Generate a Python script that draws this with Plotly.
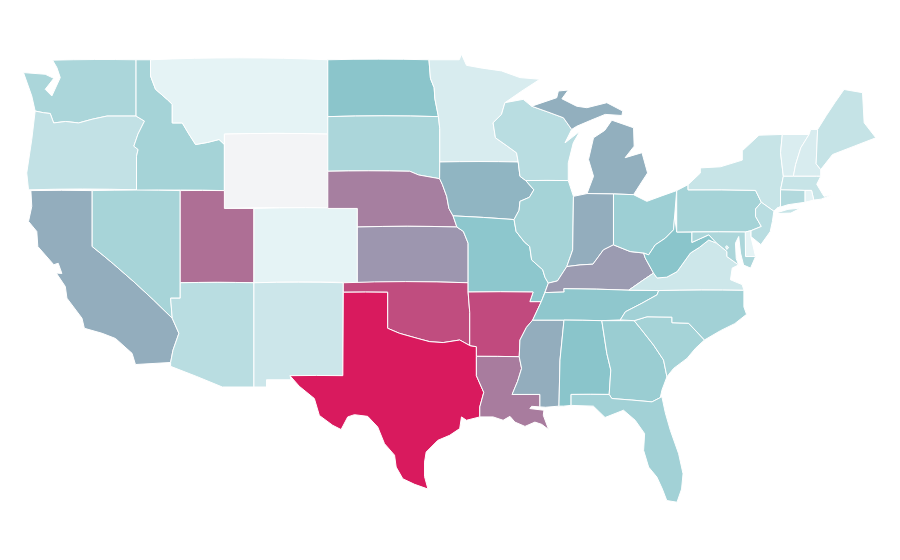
import json
from urllib.parse import quote
import plotly.graph_objects as go

# Values estimated from the reference colours.
states = ["WA","OR","CA","ID","NV","MT","WY","UT","AZ","CO","NM","ND","SD","NE","KS","OK","TX","MN","IA","MO","AR","LA","WI","IL","MS","MI","IN","KY","TN","AL","OH","GA","FL","SC","NC","VA","WV","PA","NY","VT","NH","ME","MA","RI","CT","NJ","DE","MD","DC"]
values = [15.1,10.3,30,16.4,15.9,3,0,58,12.2,3,8.2,21.8,15.1,50,40,75,100,5.7,27.3,21.3,76,51.5,12.2,16.4,30,29.5,30,38,21,22,18,18.7,17,16.4,17,8,22,16.4,9.2,5.3,5.7,9.6,9.2,3,13.7,12.2,3,15,3]
colorscale = [[0,"#f3f4f6"],[0.03,"#e5f3f5"],[0.22,"#8ac5cb"],[0.30,"#93adbd"],[0.50,"#a67fa0"],[1,"#d91a5e"]]

# Base-map geometry only: approximate state outlines in lon/lat (the library's
# own topojson cannot be downloaded without a network). Shared borders are named.
WA_OR = [(-123.86,46.24),(-123.3,46.15),(-122.84,46.11),(-122.61,45.6),(-121.8,45.68),(-120.92,45.6),(-120,45.8),(-119,45.97),(-117.03,45.97)]
OR_ID = [(-117.03,45.97),(-116.46,45.7),(-116.9,45.0),(-117.18,44.35),(-116.89,44.17),(-117,43.81),(-117,42)]
MT_ID = [(-116.05,49),(-116.05,48.13),(-115.71,47.41),(-114.9,46.85),(-114.58,46.6),(-114.58,45.6),(-113.9,45.6),(-113.45,45.0),(-113,44.44),(-112.2,44.55),(-111.41,44.71),(-111.05,44.44)]
COLO = [(-114.58,35.09),(-114.13,34.28),(-114.53,33.37),(-114.69,32.71)]
RED_OK = [(-100,34.55),(-99.2,34.28),(-97.95,34),(-97.15,33.83),(-96.24,33.78),(-95.12,33.92),(-94.44,33.62)]
RED_ND = [(-97.2,49),(-97.1,48),(-96.85,47.5),(-96.8,46.9),(-96.56,45.94)]
NE_IA = [(-95.57,40.6),(-95.85,41),(-96,41.65),(-96.3,42.3),(-96.48,42.6)]
IA_E = [(-91.16,43.5),(-91.04,42.73),(-90.65,42.5),(-90.1,42),(-90.4,41.6),(-91.04,41.38),(-91.1,40.9),(-91.44,40.4)]
MO_E = [(-91.44,40.4),(-91.3,39.76),(-90.75,39.2),(-90.38,38.95),(-90.25,38.23),(-89.5,37.7),(-89.35,37.3),(-89.12,36.98)]
MN_WI = [(-92.06,46.69),(-92.29,46.06),(-92.86,45.61),(-92.7,44.8),(-91.27,43.99),(-91.16,43.5)]
AR_MS = [(-90.18,34.99),(-90.6,34.6),(-91.04,33.92),(-91.09,33.02)]
LA_MS = [(-91.09,33.02),(-90.93,32.39),(-91.2,31.7),(-91.57,30.99),(-89.69,30.99),(-89.69,30.32)]
TX_LA = [(-93.99,33.04),(-93.99,32),(-93.49,31.1),(-93.76,30.32),(-93.76,29.78)]
KY_N = [(-89.12,36.98),(-88.5,37.1),(-87.87,37.87),(-86.97,37.96),(-86.1,38),(-85.39,38.77),(-84.71,39.04),(-83.58,38.68),(-82.67,38.6)]
OH_WV = [(-82.67,38.6),(-82.33,38.5),(-81.88,39.04),(-81.2,39.4),(-80.64,39.85),(-80.57,40.57)]
VA_WV = [(-77.72,39.13),(-78.26,39.3),(-78.9,38.9),(-79.5,38.6),(-80.4,37.6),(-81.1,37.3),(-81.76,37.26)]
MD_VA = [(-76.24,37.96),(-77.03,38.41),(-77.03,38.68),(-77.72,39.13)]
PA_NJ = [(-74.7,41.33),(-75.09,40.97),(-75.09,40.57),(-74.7,40.03),(-75.41,39.8)]
GA_SC = [(-83.31,34.96),(-82.8,34.46),(-82,33.65),(-81.32,32.84),(-81.09,31.94)]
NC_SC = [(-83.31,34.96),(-82.44,35.17),(-80.75,35.15),(-80.75,34.85),(-79.62,34.82),(-78.55,33.92)]
TN_NC = [(-84.25,35),(-83.9,35.44),(-82.78,35.9),(-81.76,36.35),(-81.65,36.58)]
VT_NH = [(-71.47,44.98),(-72.03,44.26),(-72.38,43.36),(-72.53,42.73)]
IL_W = [(-88.5,37.1),(-89.12,36.98)]

def r(line):
    return line[::-1]

shapes = {
"WA":[[(-124.65,48.31),(-124.09,47.05)]+WA_OR+[(-117.03,49),(-122.68,48.98),(-122.39,48.58),(-122.16,48.04),(-122.73,47.05),(-123.18,47.41),(-122.6,48),(-123.18,48.22)]],
"OR":[WA_OR+OR_ID[1:]+[(-124.31,42),(-124.43,42.91),(-124.09,44.71)]],
"CA":[[(-124.15,41.96),(-120,41.96),(-120,38.95)]+COLO+[(-117.07,32.6),(-117.3,33.2),(-118.42,34),(-119.33,34.28),(-120.53,34.55),(-120.69,35.09),(-121.71,36.17),(-121.82,36.8),(-122.43,37.52),(-122.05,37.5),(-122.3,38.05),(-122.6,37.97),(-123.68,38.95),(-123.75,39.76),(-124.31,40.3),(-124.09,41.11)]],
"NV":[[(-120,41.96),(-114.04,41.96),(-114.04,36.17),(-114.69,36.17),(-114.58,35.09),(-120,38.95)]],
"ID":[[(-117.03,49)]+MT_ID+[(-111.05,41.96),(-117,41.96)]+r(OR_ID)[1:]],
"MT":[MT_ID+[(-111.05,45),(-104.05,45),(-104.05,49)]],
"WY":[[(-111.05,45),(-104.05,45),(-104.05,41),(-111.05,41)]],
"UT":[[(-114.04,41.96),(-111.05,41.96),(-111.05,41),(-109.05,41),(-109.05,37),(-114.04,37)]],
"CO":[[(-109.05,41),(-102.05,41),(-102.05,37),(-109.05,37)]],
"AZ":[[(-114.04,37),(-109.05,37),(-109.05,31.39),(-111.19,31.39),(-114.69,32.5)]+r(COLO)+[(-114.69,36.17),(-114.04,36.17)]],
"NM":[[(-109.05,37),(-103,37),(-103.03,32),(-106.61,32),(-106.53,31.78),(-108.2,31.78),(-108.2,31.39),(-109.05,31.39)]],
"ND":[[(-104.05,49)]+RED_ND+[(-104.05,45.94)]],
"SD":[[(-104.05,45.94),(-96.56,45.94),(-96.47,45.3),(-96.47,43.5),(-96.48,42.6),(-97.9,42.8),(-98.5,43),(-104.05,43)]],
"NE":[[(-104.05,43),(-98.5,43),(-97.9,42.8)]+r(NE_IA)+[(-95.31,40),(-102.05,40),(-102.05,41),(-104.05,41)]],
"KS":[[(-102.05,40),(-95.31,40),(-94.87,39.76),(-94.55,39.13),(-94.55,37),(-102.05,37)]],
"OK":[[(-103,37),(-94.55,37),(-94.55,36.5),(-94.44,35.4)]+r(RED_OK)+[(-100,36.49),(-103,36.49)]],
"TX":[[(-103,36.49),(-100,36.49)]+RED_OK+[(-93.99,33.56)]+TX_LA+[(-94.66,29.6),(-95,29.78),(-95.12,29.15),(-95.8,28.79),(-96.6,28.52),(-97.39,27.89),(-97.5,27.35),(-97.5,26.57),(-97.27,25.9),(-98.17,26.15),(-98.97,26.45),(-99.42,27.08),(-99.53,27.72),(-100.21,28.34),(-100.67,29.24),(-101.35,29.81),(-102.25,29.9),(-102.7,29.78),(-103.15,29.1),(-103.72,29.33),(-104.62,29.86),(-104.96,30.77),(-105.98,31.43),(-106.61,32),(-103.03,32)]],
"MN":[RED_ND+[(-96.47,45.3),(-96.47,43.5)]+r(MN_WI)+[(-89.69,47.95),(-91.04,48.04),(-92.29,48.4),(-93.6,48.55),(-94.66,48.7),(-95,49.3),(-95.15,49)]],
"IA":[[(-96.47,43.5)]+IA_E+NE_IA],
"MO":[[(-95.57,40.6)]+MO_E+[(-89.35,36.5),(-89.6,35.98),(-90.37,35.98),(-90.15,36.5),(-94.55,36.5),(-94.55,37),(-94.55,39.13),(-94.87,39.76),(-95.31,40)]],
"AR":[[(-94.55,36.5),(-90.15,36.5),(-90.37,35.98),(-89.6,35.98)]+AR_MS+[(-93.99,33.04),(-93.99,33.56),(-94.44,33.62),(-94.44,35.4)]],
"LA":[[(-93.99,33.04)]+LA_MS+[(-90.25,30.35),(-90.37,30.23),(-89.42,30.14),(-89.46,29.87),(-89.1,29.1),(-89.57,29.38),(-90.03,29.5),(-90.7,29.27),(-91.38,29.5),(-91.72,29.81),(-92.18,29.6),(-92.86,29.78)]+r(TX_LA)[:-1]],
"MS":[[(-90.18,34.99),(-88.06,34.99),(-88.33,32.84),(-88.4,30.36),(-89.3,30.3)]+r(LA_MS)+r(AR_MS)[1:]],
"AL":[[(-88.06,34.99),(-85.5,34.96),(-85.16,33.2),(-84.89,32.3),(-85,30.99),(-87.58,30.99),(-87.58,30.4),(-88.1,30.36),(-88.4,30.36),(-88.33,32.84)]],
"GA":[[(-85.5,34.96)]+GA_SC+[(-81.43,31.22),(-81.54,30.82),(-82.1,30.59),(-84.82,30.77),(-85,30.99),(-84.89,32.3),(-85.16,33.2)]],
"FL":[[(-87.58,30.99),(-85,30.99),(-84.82,30.77),(-82.1,30.59),(-81.54,30.82),(-81.43,30.86),(-81.2,30),(-80.86,29.06),(-80.3,27.8),(-80,26.72),(-80.1,25.9),(-80.41,25.19),(-81.1,25.28),(-81.4,25.9),(-81.77,26.54),(-82.33,27.08),(-82.67,27.98),(-82.6,28.88),(-83.24,29.6),(-84.03,30.14),(-85.28,29.75),(-86.07,30.36),(-87.58,30.4)]],
"SC":[NC_SC+[(-79.16,33.47),(-79.73,32.93),(-80.64,32.39)]+r(GA_SC)[:-1]],
"NC":[TN_NC[:1]+[(-83.31,34.96)]+NC_SC[1:]+[(-77.47,34.42),(-76.5,34.8),(-75.7,35.3),(-75.88,35.7),(-75.88,36.6)]+r(TN_NC)[:-1]],
"TN":[[(-90.18,34.99),(-89.6,35.98),(-89.35,36.47),(-88.05,36.5),(-88.07,36.68),(-83.68,36.6),(-81.65,36.58)]+r(TN_NC)[1:]+[(-85.5,34.96),(-88.06,34.99)]],
"KY":[[(-89.35,36.47)]+KY_N+[(-82.56,38.33),(-82,37.52),(-83.68,36.6),(-88.07,36.68),(-88.05,36.5)]],
"IL":[[(-90.65,42.5),(-87.77,42.5),(-87.42,41.65),(-87.47,38.77),(-87.87,37.87)]+IL_W+r(MO_E)[1:]+r(IA_E)[1:-2]],
"WI":[[(-92.06,46.69),(-90.82,46.87),(-90.25,46.5),(-88.1,45.88),(-87.54,45.25),(-87.99,44.53),(-86.97,45.16),(-87.43,44.53),(-87.77,43.45),(-87.77,42.5),(-90.65,42.5),(-91.04,42.73)]+r(MN_WI)],
"MI":[[(-86.5,41.8),(-84.71,41.78),(-83.35,41.74),(-82.9,42.3),(-82.4,42.91),(-82.78,44),(-83.92,43.73),(-83.31,44.35),(-83.35,45.34),(-84.82,45.75),(-85.3,45.2),(-86.06,44.8),(-86.4,43.63),(-86.06,42.73)],
      [(-90.25,46.5),(-88.55,46.96),(-88.44,47.32),(-87.77,47.37),(-88.2,46.9),(-87.2,46.5),(-86.51,46.42),(-85.16,46.69),(-84.08,46.24),(-84.14,46),(-85.27,46.06),(-87.2,45.42),(-87.54,45.25),(-88.1,45.88)]],
"IN":[[(-87.42,41.65),(-86.5,41.8),(-84.71,41.78),(-84.71,39.04),(-85.39,38.77),(-86.1,38),(-86.97,37.96),(-87.87,37.87),(-87.47,38.77)]],
"OH":[[(-84.71,41.78),(-83.35,41.74),(-82.45,41.38),(-80.43,41.96)]+[(-80.57,40.57)]+r(OH_WV)[1:]+[(-83.58,38.68),(-84.71,39.04)]],
"WV":[OH_WV+[(-80.43,39.73),(-79.4,39.73),(-79.4,39.17),(-78.26,39.58)]+VA_WV+[(-82,37.52),(-82.56,38.33)]],
"VA":[[(-83.68,36.6),(-81.65,36.58),(-75.88,36.6),(-76,36.9),(-76.79,37.16),(-76.67,37.79)]+MD_VA+VA_WV+[(-82,37.52)]],
"MD":[[(-79.4,39.73),(-75.79,39.73),(-75.77,38.41),(-75.09,38.41),(-75.43,37.79),(-75.9,37.95),(-76.11,38.6),(-76.23,39.49),(-76.45,39.13),(-76.4,38.3)]+MD_VA+[(-78.26,39.58),(-79.4,39.17)]],
"DC":[[(-77.12,38.93),(-77.04,39),(-76.91,38.89),(-77.04,38.79)]],
"DE":[[(-75.79,39.73),(-75.41,39.8),(-75.41,39.49),(-75.09,38.41),(-75.77,38.41)]],
"PA":[[(-80.43,41.96),(-79.66,42.28),(-79.66,42),(-75.09,41.97)]+PA_NJ+[(-75.79,39.73),(-80.43,39.73)]],
"NJ":[[(-74.7,41.33),(-73.85,40.85),(-73.95,40.3),(-74.1,39.75),(-74.73,39.05),(-75.41,39.49),(-75.41,39.8),(-74.7,40.03),(-75.09,40.57),(-75.09,40.97)]],
"NY":[[(-79.66,42.28),(-78.83,42.9),(-78.83,43.18),(-77.47,43.24),(-75.99,43.6),(-75.99,44.1),(-74.86,44.94),(-73.28,44.98),(-73.4,44),(-73.21,42.73),(-73.4,42),(-73.4,41.09),(-73.62,41.02),(-73.85,40.85),(-74.7,41.33),(-75.09,41.97),(-79.66,42)],
      [(-73.85,40.72),(-72.9,40.95),(-72.03,41.02),(-72.7,40.75)]],
"CT":[[(-73.4,42),(-71.75,41.97),(-71.75,41.33),(-72.9,41.2),(-73.62,41.02),(-73.4,41.09)]],
"RI":[[(-71.75,41.97),(-71.3,41.97),(-71.15,41.45),(-71.75,41.33)]],
"MA":[[(-73.4,42),(-73.21,42.73),(-72.53,42.73),(-70.95,42.73),(-70.68,42.73),(-70.95,42.3),(-70.46,41.65),(-70.01,41.7),(-70.65,41.5),(-71.15,41.45),(-71.3,41.97),(-71.75,41.97)]],
"VT":[[(-73.28,44.98)]+VT_NH+[(-73.21,42.73),(-73.4,44)]],
"NH":[[(-71.47,44.98),(-71.36,45.25),(-70.89,45.25),(-70.99,43.4),(-70.68,43.09),(-70.68,42.73)]+r(VT_NH)[:-1]],
"ME":[[(-70.89,45.25),(-70.3,46),(-69.1,47.4),(-67.85,47.23),(-67.74,45.61),(-66.95,44.8),(-68.42,44.35),(-69.88,43.9),(-70.68,43.09),(-70.99,43.4)]],
}

LAT_STRETCH = 18.53 / 14.73  # the reference's map is stretched in latitude relative to longitude

def clockwise(ring):
    area = sum(ring[i][0]*ring[(i+1)%len(ring)][1] - ring[(i+1)%len(ring)][0]*ring[i][1] for i in range(len(ring)))
    return ring if area < 0 else ring[::-1]

def feature(code):
    polys = []
    for ring in shapes[code]:
        ring = clockwise(ring)
        coords = [[lon, lat * LAT_STRETCH] for lon, lat in ring]
        polys.append([coords + [coords[0]]])
    return {"type":"Feature","id":code,"properties":{},"geometry":{"type":"MultiPolygon","coordinates":polys}}

geojson = {"type":"FeatureCollection","features":[feature(s) for s in states]}

fig = go.Figure(go.Choropleth(geojson=geojson, locations=states, z=values, colorscale=colorscale, zmin=0, zmax=100,
                              showscale=False, marker=dict(line=dict(color="white", width=1))))
fig.update_geos(projection_type="equirectangular", visible=False, showframe=False, showland=False, showlakes=False,
                showcoastlines=False, showcountries=False, showsubunits=False, bgcolor="white",
                lonaxis_range=[-125.70,-64.77], lataxis_range=[27.34, 65.04],
                domain=dict(x=[0,1], y=[0,1]))
fig.update_layout(width=900, height=560, margin=dict(l=0,r=0,t=0,b=0), paper_bgcolor="white")

# No base-map layer is shown, so an empty inline topology stands in for the CDN file.
empty_topology = quote(json.dumps({"type":"Topology","objects":{},"arcs":[]}))
fig.write_html("out.html", config={"topojsonURL": "data:application/json," + empty_topology + "#"})
